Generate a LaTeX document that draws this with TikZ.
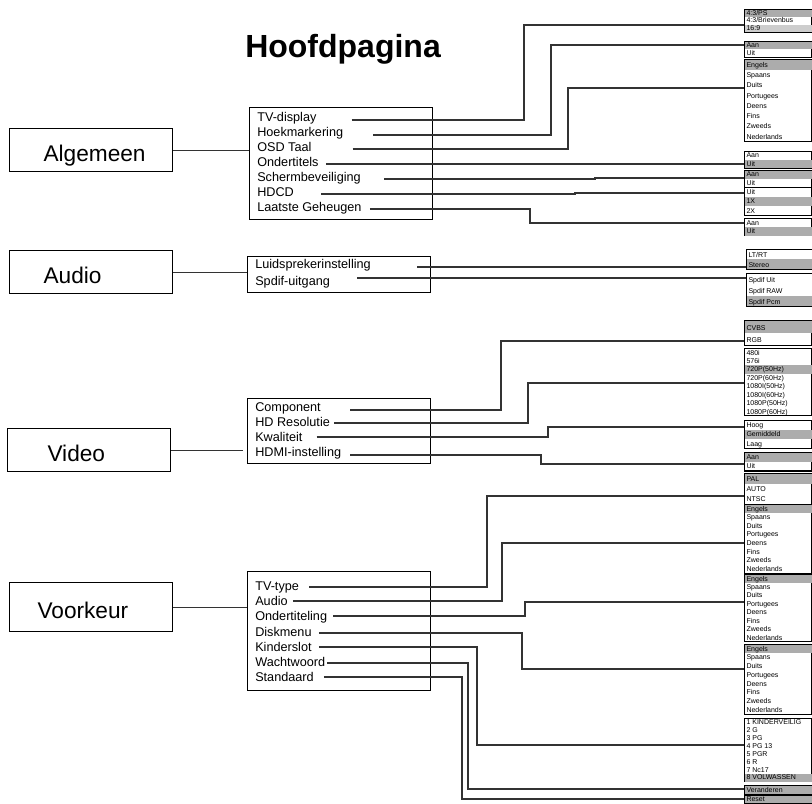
\documentclass[tikz,border=0pt]{standalone}
\usepackage{fontspec}
\setmainfont{Liberation Sans}
\usepackage{colortbl}
\definecolor{selgray}{RGB}{172,172,172}
\definecolor{selgrayl}{RGB}{205,205,205}
\setlength{\tabcolsep}{1.5pt}
\setlength{\extrarowheight}{2pt}
\newcommand{\optlist}[2]{\renewcommand{\arraystretch}{#1}%
  \begin{tabular}{p{47.25pt}}#2\end{tabular}}

\begin{document}
\begin{tikzpicture}
  [x=0.75pt,y=-0.75pt,
   mainN/.style={draw,line width=0.8pt,anchor=north west,inner ysep=0pt,
     minimum width=122.25pt,minimum height=32.25pt,text height=17pt,
     text depth=0pt,align=left,font=\fontsize{17}{20}\selectfont},
   subN/.style={draw,line width=0.8pt,anchor=north west,minimum width=137.25pt},
   itemN/.style={anchor=base west,inner sep=0pt,font=\fontsize{9.5}{11}\selectfont},
   optN/.style={draw,line width=0.8pt,anchor=north west,inner sep=0pt,
     font=\fontsize{5.25}{6}\selectfont},
   conn/.style={line width=0.8pt,draw=black!80}]

  \useasboundingbox (0,0) rectangle (812,803);

  \node[anchor=base west,inner sep=0pt,font=\bfseries\fontsize{24}{28}\selectfont]
    (title) at (245,57) {Hoofdpagina};

  \node[mainN,inner xsep=25.5pt,text width=71.25pt] (alg) at (9,128) {Algemeen};
  \node[mainN,inner xsep=25.5pt,text width=71.25pt] (aud) at (9,250) {Audio};
  \node[mainN,inner xsep=30pt,text width=62.25pt] (vid) at (7,428) {Video};
  \node[mainN,inner xsep=21pt,text width=80.25pt,minimum height=36.75pt]
    (voor) at (9,582) {Voorkeur};

  \node[subN,minimum height=84pt] (algsub) at (249,107) {};
  \node[subN,minimum height=27pt] (audsub) at (247,256) {};
  \node[subN,minimum height=48.75pt] (vidsub) at (247,398) {};
  \node[subN,minimum height=89.25pt] (voorsub) at (247,571) {};

  \draw[conn] (alg.east) -- (alg.east -| algsub.west);
  \draw[conn] (aud.east) -- (aud.east -| audsub.west);
  \draw[conn,shorten >=3pt] (vid.east) -- (vid.east -| vidsub.west);
  \draw[conn] (voor.east) -- (voor.east -| voorsub.west);

  % Algemeen
  \node[itemN] (tvd) at (257,121) {TV-display};
  \node[itemN] (hoek) at (257,136) {Hoekmarkering};
  \node[itemN] (osd) at (257,151) {OSD Taal};
  \node[itemN] (ondt) at (257,166) {Ondertitels};
  \node[itemN] (scherm) at (257,181) {Schermbeveiliging};
  \node[itemN] (hdcd) at (257,196) {HDCD};
  \node[itemN] (laatst) at (257,211) {Laatste Geheugen};

  % Audio
  \node[itemN] (luid) at (255,268) {Luidsprekerinstelling};
  \node[itemN] (spdif) at (255,285) {Spdif-uitgang};

  % Video
  \node[itemN] (comp) at (255,411) {Component};
  \node[itemN] (hdres) at (255,426) {HD Resolutie};
  \node[itemN] (kwal) at (255,441) {Kwaliteit};
  \node[itemN] (hdmi) at (255,456) {HDMI-instelling};

  % Voorkeur
  \node[itemN] (tvt) at (255,590) {TV-type};
  \node[itemN] (vaud) at (255,605) {Audio};
  \node[itemN] (ondtl) at (255,620) {Ondertiteling};
  \node[itemN] (disk) at (255,636) {Diskmenu};
  \node[itemN] (kind) at (255,651) {Kinderslot};
  \node[itemN] (wacht) at (255,666) {Wachtwoord};
  \node[itemN] (std) at (255,681) {Standaard};

  % keuzes
  \node[optN] (o1) at (744,9) {\optlist{0.705}{\rowcolor{selgray}4:3/PS\\
    4:3/Brievenbus\\ \rowcolor{selgrayl}16:9}};
  \node[optN] (o2) at (744,41) {\optlist{0.74}{\rowcolor{selgray}Aan\\ Uit}};
  \node[optN] (o3) at (744,59) {\optlist{0.96}{\rowcolor{selgray}Engels\\
    Spaans\\ Duits\\ Portugees\\ Deens\\ Fins\\ Zweeds\\ Nederlands}};
  \node[optN] (o4) at (744,151) {\optlist{0.78}{Aan\\ \rowcolor{selgray}Uit}};
  \node[optN] (o5) at (744,170) {\optlist{0.78}{\rowcolor{selgray}Aan\\ Uit}};
  \node[optN] (o6) at (744,187) {\optlist{0.865}{Uit\\ \rowcolor{selgray}1X\\ 2X}};
  \node[optN] (o7) at (744,218) {\optlist{0.805}{Aan\\ \rowcolor{selgray}Uit}};
  \node[optN] (o8) at (746,249) {\optlist{0.93}{LT/RT\\ \rowcolor{selgray}Stereo}};
  \node[optN] (o9) at (746,273) {\optlist{1.03}{Spdif Uit\\ Spdif RAW\\
    \rowcolor{selgray}Spdif Pcm}};
  \node[optN] (o10) at (744,320) {\optlist{1.175}{\rowcolor{selgray}CVBS\\ RGB}};
  \node[optN] (o11) at (744,348) {\optlist{0.79}{480i\\ 576i\\
    \rowcolor{selgray}720P(50Hz)\\ 720P(60Hz)\\ 1080I(50Hz)\\ 1080I(60Hz)\\
    1080P(50Hz)\\ 1080P(60Hz)}};
  \node[optN] (o12) at (744,420) {\optlist{0.865}{Hoog\\
    \rowcolor{selgray}Gemiddeld\\ Laag}};
  \node[optN] (o13) at (744,452) {\optlist{0.865}{\rowcolor{selgray}Aan\\ Uit}};
  \node[optN] (o14) at (744,473) {\optlist{0.955}{\rowcolor{selgray}PAL\\ AUTO\\ NTSC}};
  \node[optN] (o15) at (744,504) {\optlist{0.805}{\rowcolor{selgray}Engels\\
    Spaans\\ Duits\\ Portugees\\ Deens\\ Fins\\ Zweeds\\ Nederlands}};
  \node[optN] (o16) at (744,574) {\optlist{0.79}{\rowcolor{selgray}Engels\\
    Spaans\\ Duits\\ Portugees\\ Deens\\ Fins\\ Zweeds\\ Nederlands}};
  \node[optN] (o17) at (744,644) {\optlist{0.815}{\rowcolor{selgray}Engels\\
    Spaans\\ Duits\\ Portugees\\ Deens\\ Fins\\ Zweeds\\ Nederlands}};
  \node[optN] (o18) at (744,718) {\optlist{0.74}{1 KINDERVEILIG\\ 2 G\\ 3 PG\\
    4 PG 13\\ 5 PGR\\ 6 R\\ 7 Nc17\\ \rowcolor{selgray}8 VOLWASSEN}};
  \node[optN] (o19) at (744,785) {\optlist{0.8}{\rowcolor{selgray}Veranderen}};
  \node[optN] (o20) at (744,795) {\optlist{0.7}{\rowcolor{selgray}Reset}};

  \draw[conn] (tvd.base east) ++(35,-1) -| (524,25) -- (o1.west |- 0,25);
  \draw[conn] (hoek.base east) ++(30,-1) -| (551,45) -- (o2.west |- 0,45);
  \draw[conn] (osd.base east) ++(41,-2) -| (568,88) -- (o3.west |- 0,88);
  \draw[conn] (ondt.base east) ++(7,-2) -- (o4.west |- 0,164);
  \draw[conn] (scherm.base east) ++(23,-2) -| (595,178) -- (o5.west |- 0,178);
  \draw[conn] (hdcd.base east) ++(27,-2) -| (575,193) -- (o6.west |- 0,193);
  \draw[conn] (laatst.base east) ++(8,-2) -| (530,223) -- (o7.west |- 0,223);

  \draw[conn] (luid.base east) ++(46,-1) -- (o8.west |- 0,267);
  \draw[conn] (spdif.base east) ++(27,-7) -- (o9.west |- 0,278);

  \draw[conn] (comp.base east) ++(29,-1) -| (501,341) -- (o10.west |- 0,341);
  \draw[conn] (hdres.base east) ++(4,-3) -| (528,383) -- (o11.west |- 0,383);
  \draw[conn] (kwal.base east) ++(14,-4) -| (548,427) -- (o12.west |- 0,427);
  \draw[conn] (hdmi.base east) ++(9,-1) -| (541,464) -- (o13.west |- 0,464);

  \draw[conn] (tvt.base east) ++(10,-3) -| (487,496) -- (o14.west |- 0,496);
  \draw[conn] (vaud.base east) ++(5,-4) -| (502,543) -- (o15.west |- 0,543);
  \draw[conn] (ondtl.base east) ++(6,-4) -| (525,602) -- (o16.west |- 0,602);
  \draw[conn] (disk.base east) ++(7,-3) -| (522,669) -- (o17.west |- 0,669);
  \draw[conn] (kind.base east) ++(7,-4) -| (477,745) -- (o18.west |- 0,745);
  \draw[conn] (wacht.base east) ++(2,-3) -| (468,789) -- (o19.west |- 0,789);
  \draw[conn] (std.base east) ++(10,-4) -| (462,799) -- (o20.west |- 0,799);

\end{tikzpicture}
\end{document}
